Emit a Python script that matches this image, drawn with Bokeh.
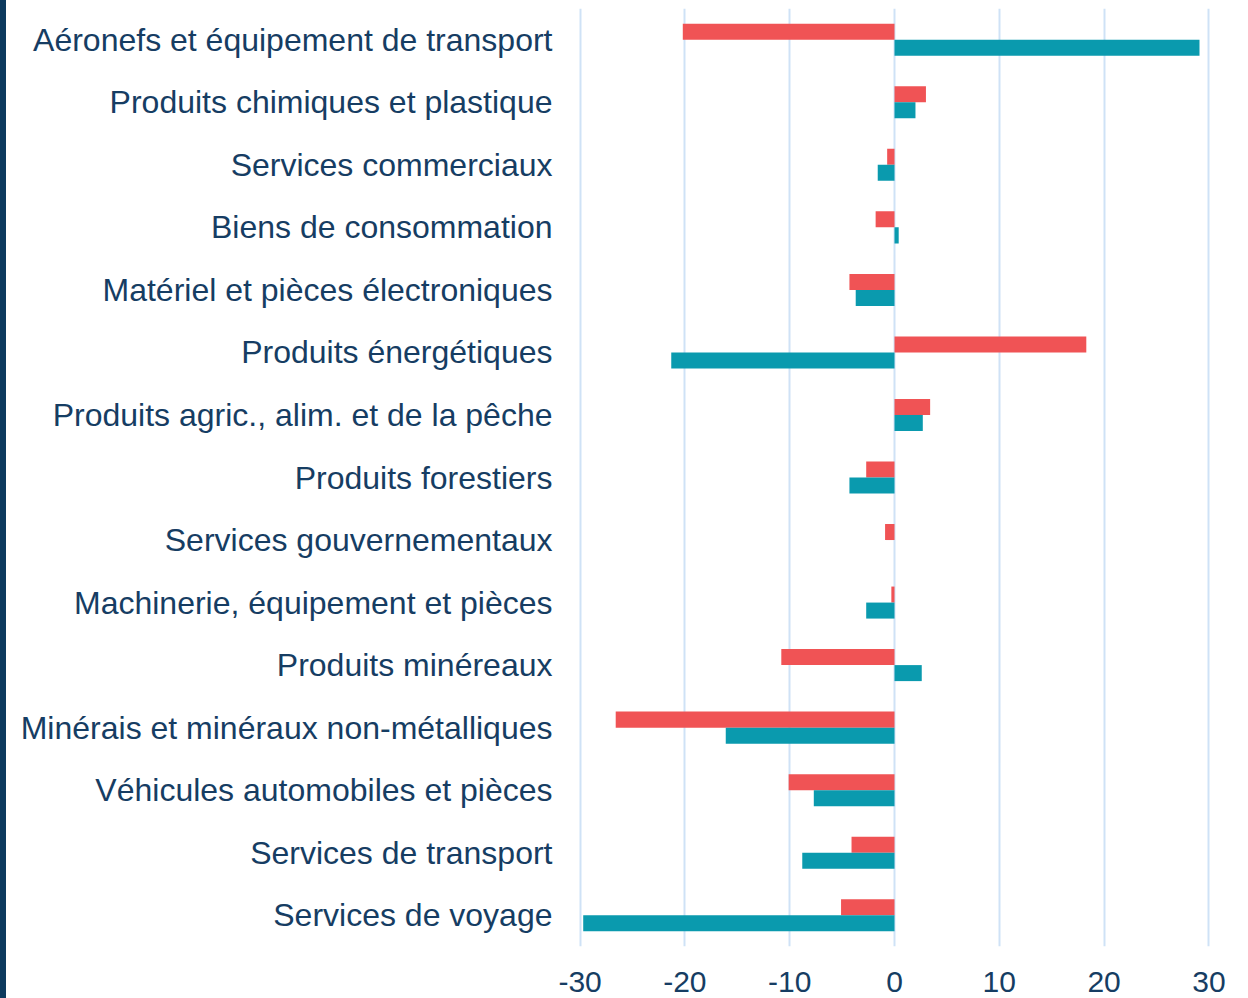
from bokeh.plotting import figure
from bokeh.models import ColumnDataSource, FactorRange, Range1d, FixedTicker, Div
from bokeh.layouts import row
from bokeh.transform import dodge
from bokeh.embed import file_html
from bokeh.resources import INLINE

categories = [
    "Aéronefs et équipement de transport",
    "Produits chimiques et plastique",
    "Services commerciaux",
    "Biens de consommation",
    "Matériel et pièces électroniques",
    "Produits énergétiques",
    "Produits agric., alim. et de la pêche",
    "Produits forestiers",
    "Services gouvernementaux",
    "Machinerie, équipement et pièces",
    "Produits minéreaux",
    "Minérais et minéraux non-métalliques",
    "Véhicules automobiles et pièces",
    "Services de transport",
    "Services de voyage",
]
series_red = [-20.2, 3.0, -0.7, -1.8, -4.3, 18.3, 3.4, -2.7, -0.9, -0.3, -10.8, -26.6, -10.1, -4.1, -5.1]
series_teal = [29.1, 2.0, -1.6, 0.4, -3.7, -21.3, 2.7, -4.3, 0.0, -2.7, 2.6, -16.1, -7.7, -8.8, -29.7]
x_ticks = [-30, -20, -10, 0, 10, 20, 30]
x_tick_labels = ["-30", "-20", "-10", "0", "10", "20", "30"]

RED = "#f05355"
TEAL = "#0a9aae"
TEXT = "#163d63"
NAVY = "#0d3a5e"
GRID = "#cfe2f6"

src = ColumnDataSource(dict(cat=categories, red=series_red, teal=series_teal))

p = figure(
    width=1242, height=998,
    y_range=FactorRange(*reversed(categories), range_padding=0),
    x_range=Range1d(-30.15, 30.15),
    output_backend="svg", toolbar_location=None,
    min_border_left=572, min_border_right=38, min_border_top=8, min_border_bottom=52,
)
p.outline_line_color = None
p.background_fill_color = "white"
p.border_fill_color = "white"

p.hbar(y=dodge("cat", 0.128, range=p.y_range), left=0, right="red", height=0.256,
       source=src, fill_color=RED, line_color=None)
p.hbar(y=dodge("cat", -0.128, range=p.y_range), left=0, right="teal", height=0.256,
       source=src, fill_color=TEAL, line_color=None)

p.xaxis.ticker = FixedTicker(ticks=x_ticks)
p.xaxis.major_label_overrides = dict(zip(x_ticks, x_tick_labels))
p.xgrid.ticker = FixedTicker(ticks=x_ticks)
p.xgrid.grid_line_color = GRID
p.xgrid.grid_line_width = 2
p.ygrid.grid_line_color = None

for ax in (p.xaxis, p.yaxis):
    ax.axis_line_color = None
    ax.major_tick_line_color = None
    ax.minor_tick_line_color = None
    ax.major_tick_out = 0
    ax.major_tick_in = 0
    ax.major_label_text_color = TEXT
    ax.major_label_text_font = "Liberation Sans"

p.xaxis.major_label_text_font_size = "30px"
p.xaxis.major_label_standoff = 25
p.yaxis.major_label_text_font_size = "32px"
p.yaxis.major_label_standoff = 26

stripe = Div(text="", width=6, height=998, margin=(0, 0, 0, 0),
             styles={"background-color": NAVY})

layout = row(stripe, p, spacing=0)

open("out.html", "w").write(file_html(layout, INLINE))
